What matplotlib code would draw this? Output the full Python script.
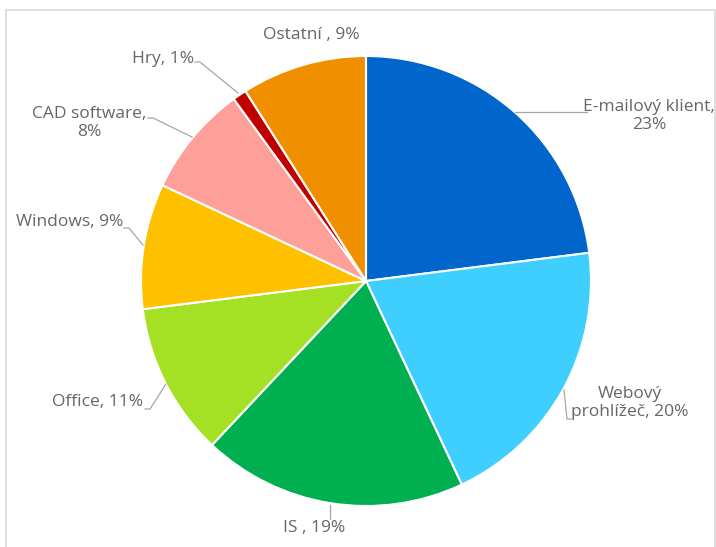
import matplotlib.pyplot as plt
from matplotlib.patches import Rectangle

plt.rcParams['font.family'] = ['Open Sans', 'DejaVu Sans']

labels = ["E-mailový klient", "Webový prohlížeč", "IS ", "Office", "Windows",
          "CAD software", "Hry", "Ostatní "]
values = [23, 20, 19, 11, 9, 8, 1, 9]
colors = ["#0066CC", "#3FCFFF", "#00B050", "#A4E023", "#FFC000",
          "#FF9F99", "#C00000", "#F09000"]

W, H = 716, 547
fig = plt.figure(figsize=(W / 100, H / 100), dpi=100)
ax = fig.add_axes([0, 0, 1, 1])

def py(y):
    # pixel rows counted from the top
    return H - y

# chart frame
ax.add_patch(Rectangle((6, py(560)), 709, 550, fill=False,
                       edgecolor="#D9D9D9", linewidth=1.2))

ax.pie(values, colors=colors, startangle=90, counterclock=False,
       center=(366, py(281)), radius=225, frame=True,
       wedgeprops=dict(edgecolor="white", linewidth=1.5))
ax.set_xlim(0, W)
ax.set_ylim(0, H)
ax.set_aspect('equal')
ax.axis('off')

txt = dict(fontsize=12.5, color="#666666")
lead = dict(color="#A6A6A6", linewidth=0.9)

pct = [f"{v}%" for v in values]

# E-mailový klient
ax.plot([515, 587], [py(112), py(112)], **lead)
ax.text(649, py(116), labels[0] + ",\n" + pct[0], ha="center", va="center",
        linespacing=1.2, **txt)
# Webový prohlížeč
ax.plot([564, 567, 571], [py(390), py(419), py(419)], **lead)
ax.text(630, py(403), "Webový\nprohlížeč, " + pct[1], ha="center", va="center",
        linespacing=1.2, **txt)
# IS
ax.plot([330, 330], [py(505), py(519)], **lead)
ax.text(314, py(528), labels[2] + ", " + pct[2], ha="center", va="center", **txt)
# Office
ax.plot([145, 150, 166], [py(409), py(409), py(384)], **lead)
ax.text(143, py(402), labels[3] + ", " + pct[3], ha="right", va="center", **txt)
# Windows
ax.plot([124, 129, 143], [py(228), py(228), py(245)], **lead)
ax.text(123, py(222), labels[4] + ", " + pct[4], ha="right", va="center", **txt)
# CAD software
ax.plot([148, 153, 192], [py(118), py(118), py(137)], **lead)
ax.text(89, py(123), labels[5] + ",\n" + pct[5], ha="center", va="center",
        linespacing=1.2, **txt)
# Hry
ax.plot([195, 200, 238], [py(62), py(62), py(93)], **lead)
ax.text(194, py(59), labels[6] + ", " + pct[6], ha="right", va="center", **txt)
# Ostatní
ax.text(311, py(35), labels[7] + ", " + pct[7], ha="center", va="center", **txt)

fig.savefig("out.png", dpi=100, facecolor="white")
